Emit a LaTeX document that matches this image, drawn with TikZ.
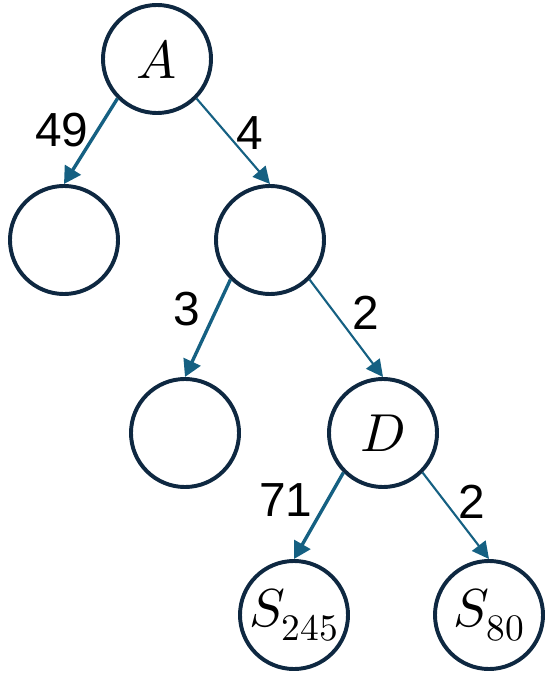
\documentclass[tikz,border=0pt]{standalone}
\usepackage{amsmath}
\usepackage{fontspec}
\usepackage{unicode-math}
\setmainfont{Liberation Sans}
\setmathfont{Latin Modern Math}
\usetikzlibrary{arrows.meta}

\definecolor{treenavy}{HTML}{0E2841}
\definecolor{edgeblue}{HTML}{156082}

\tikzset{
  vertex/.style={circle, draw=treenavy, line width=2.8pt, minimum size=2.7cm,
    inner sep=0pt, font=\fontsize{38}{44}\selectfont},
  heavy/.style={draw=edgeblue, line width=2.4pt, -{Triangle[length=12pt,width=13pt]}},
  light/.style={draw=edgeblue, line width=1.5pt, -{Triangle[length=12pt,width=12pt]}},
  weight/.style={font=\fontsize{34}{40}\selectfont, inner sep=0pt},
}

\begin{document}
\begin{tikzpicture}[x=0.025cm, y=-0.025cm]
\useasboundingbox (0,0) rectangle (548,674);
% the vertices of the tree
\node[vertex] (A) at (157,59) {$A$};
\node[vertex] (B) at (64,240) {};
\node[vertex] (C) at (270,240) {};
\node[vertex] (E) at (185,433) {};
\node[vertex] (D) at (383,433) {$D$};
\node[vertex] (S245) at (294,615) {$S_{245}$};
\node[vertex] (S80) at (489,615) {$S_{80}$};

% the edges
\draw[heavy] (A.south west) -- (B.north);
\draw[light] (A.south east) -- (C.north);
\draw[heavy] (C.south west) -- (E.north);
\draw[light] (C.south east) -- (D.north);
\draw[heavy] (D.south west) -- (S245.north);
\draw[light] (D.south east) -- (S80.north);

% the counts on the edges
\node[weight] (w49) at (62,130) {49};
\node[weight] (w4) at (250,133) {4};
\node[weight] (w3) at (187,309) {3};
\node[weight] (w2a) at (366,313) {2};
\node[weight] (w71) at (286,500) {71};
\node[weight] (w2b) at (472,502) {2};
\end{tikzpicture}
\end{document}
